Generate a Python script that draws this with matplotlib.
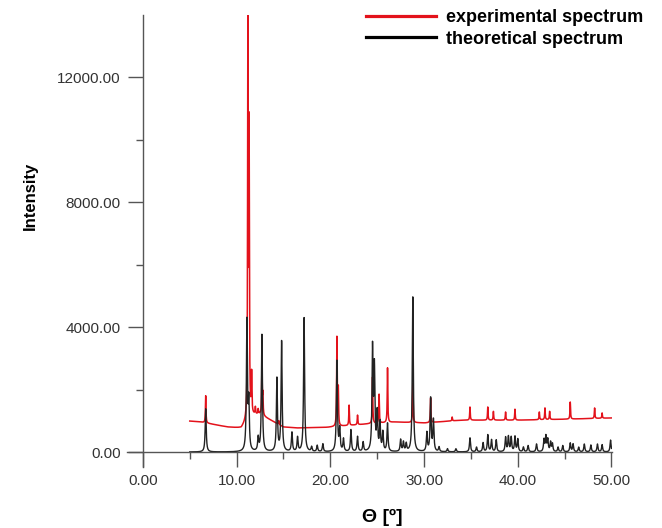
import numpy as np
import matplotlib
matplotlib.use("Agg")
import matplotlib.pyplot as plt
from matplotlib.lines import Line2D
from matplotlib.ticker import MultipleLocator, FormatStrFormatter

plt.rcParams['font.family'] = ['Liberation Sans', 'DejaVu Sans']

# experimental spectrum: background knots + peaks (position, top)
bg_x = [5.0, 6.0, 9.0, 10.5, 11.6, 12.5, 14.0, 15.0, 16.5, 19.7, 24.0, 26.9, 30.1, 34.0, 40.0, 45.0, 50.0]
bg_y = [990, 970, 800, 760, 1150, 1200, 960, 800, 770, 790, 900, 960, 930, 1020, 1020, 1050, 1090]
exp_pos = [6.7, 11.2, 11.33, 11.6, 12.0, 12.3, 12.7, 12.8, 14.5, 20.7, 20.85, 22.0, 22.9,
           24.5, 25.2, 26.1, 28.8, 30.7, 33.0, 34.9, 36.8, 37.4, 38.7, 39.7,
           42.3, 42.9, 43.4, 45.6, 48.2, 49.0]
exp_top = [1800, 13950, 10000, 2400, 1400, 1350, 2650, 1800, 1000, 3650, 2000, 1500, 1180,
           2400, 1850, 2700, 2200, 1730, 1120, 1440, 1440, 1300, 1280, 1370,
           1280, 1410, 1300, 1600, 1410, 1250]

# theoretical spectrum: peaks (position, height)
th_pos = [6.7, 11.1, 11.3, 12.3, 12.7, 14.3, 14.8, 15.9, 16.5, 17.2, 18.0, 18.6, 19.2,
          20.7, 21.0, 21.4, 22.2, 22.9, 23.5, 24.5, 24.7, 25.0, 25.3, 25.6, 26.1,
          27.5, 27.8, 28.1, 28.8, 30.3, 30.7, 31.0, 31.6, 32.5, 33.4, 34.9, 35.6,
          36.3, 36.8, 37.2, 37.7, 38.7, 39.0, 39.3, 39.7, 40.0, 40.6, 41.1, 42.0,
          42.8, 43.0, 43.2, 43.5, 43.7, 44.3, 44.8, 45.6, 45.9, 46.5, 47.1, 47.8,
          48.5, 49.0, 49.9]
th_height = [1380, 4160, 1500, 420, 3740, 2330, 3520, 610, 450, 4290, 150, 200, 250,
             2900, 700, 400, 700, 480, 300, 3260, 2600, 1200, 900, 600, 900,
             380, 300, 250, 4960, 600, 1700, 1000, 150, 100, 100, 450, 150,
             290, 540, 380, 380, 460, 480, 460, 480, 400, 150, 200, 250,
             380, 480, 380, 300, 250, 150, 200, 280, 250, 150, 250, 220,
             250, 230, 380]


def lorentz(x, pos, amp, w):
    y = np.zeros_like(x)
    for p, a in zip(pos, amp):
        y += a / (1 + ((x - p) / (w / 2)) ** 2)
    return y


x = np.linspace(5, 50, 9000)
base = np.interp(x, bg_x, bg_y)
amp = np.array(exp_top) - np.interp(exp_pos, bg_x, bg_y)
y_exp = base + lorentz(x, exp_pos, amp, 0.07)
y_th = lorentz(x, th_pos, th_height, 0.13)

fig = plt.figure(figsize=(6.62, 5.28), dpi=100)
ax = fig.add_axes([0.1918, 0.1155, 0.7326, 0.856])

ax.plot(x, y_exp, color='#e3121b', lw=1.1)
ax.plot(x, y_th, color='#222222', lw=1.0)

ax.set_xlim(-1.7, 50.05)
ax.set_ylim(-480, 13984)

for s in ['top', 'right']:
    ax.spines[s].set_visible(False)
ax.spines['left'].set_position(('data', 0))
ax.spines['bottom'].set_position(('data', 0))
for s in ['left', 'bottom']:
    ax.spines[s].set_color('#555555')
    ax.spines[s].set_linewidth(1.0)

ax.xaxis.set_major_locator(MultipleLocator(10))
ax.xaxis.set_minor_locator(MultipleLocator(5))
ax.yaxis.set_major_locator(MultipleLocator(4000))
ax.yaxis.set_minor_locator(MultipleLocator(2000))
ax.xaxis.set_major_formatter(FormatStrFormatter('%.2f'))
ax.yaxis.set_major_formatter(FormatStrFormatter('%.2f'))
ax.tick_params(which='major', direction='out', length=11, width=1, color='#555555',
               labelsize=11, labelcolor='#333333', pad=5)
ax.tick_params(which='minor', direction='out', length=5, width=1, color='#555555')

fig.text(30 / 662, 1 - 196 / 528, 'Intensity', rotation=90, fontsize=12, fontweight='bold',
         ha='center', va='center')
fig.text(382 / 662, 1 - 517 / 528, 'Θ [º]', fontsize=14, fontweight='bold',
         ha='center', va='center')

handles = [Line2D([], [], color='#e3121b', lw=2.3), Line2D([], [], color='#000000', lw=2.3)]
fig.legend(handles, ['experimental spectrum', 'theoretical spectrum'],
           loc='upper left', bbox_to_anchor=(366 / 662, 1 - 9 / 528), frameon=False,
           prop={'size': 13, 'weight': 'bold'}, handlelength=3.9, handletextpad=0.55,
           labelspacing=0.25, borderpad=0, borderaxespad=0)

fig.savefig('out.png', dpi=100)
